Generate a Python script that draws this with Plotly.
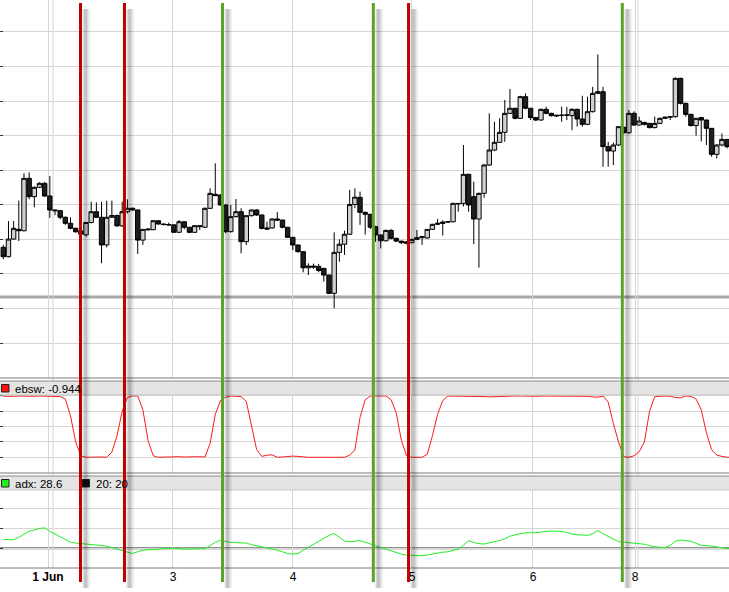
import plotly.graph_objects as go
from plotly.subplots import make_subplots

# hourly candles, price in chart units (one grid step = 10)
opens = [117.7, 115.0, 120.1, 122.9, 122.5, 137.65, 132.35, 135.05, 136.2, 132.55,
         128.5, 128.3, 126.4, 124.65, 123.2, 122.4, 121.3, 124.9, 128.0, 126.4,
         118.4, 126.4, 126.9, 123.9, 128.0, 129.0, 128.5, 119.8, 123.0, 122.8,
         125.4, 124.45, 124.3, 124.2, 122.05, 125.1, 123.5, 122.04, 123.97, 123.5,
         128.98, 133.02, 132.83, 129.94, 122.23, 126.57, 128.0, 119.34, 126.86, 128.5,
         127.05, 123.3, 123.3, 125.9, 125.6, 123.5, 120.6, 118.38, 116.45, 111.8,
         112.3, 112.2, 111.6, 109.7, 104.4, 116.25, 118.6, 121.5, 130.1, 132.15,
         127.82, 127.24, 123.68, 121.27, 119.6, 122.6, 120.3, 119.5, 119.3, 119.05,
         120.0, 120.5, 120.4, 122.9, 124.35, 124.6, 125.0, 125.1, 130.4, 130.4,
         138.8, 132.35, 125.89, 133.31, 141.5, 145.83, 148.05, 150.94, 156.43, 157.9,
         154.99, 161.25, 157.9, 155.2, 154.5, 157.59, 156.43, 155.9, 155.8, 155.9,
         155.76, 157.59, 154.8, 153.25, 156.91, 162.21, 162.69, 146.8, 145.54, 147.28,
         152.4, 150.8, 156.43, 153.06, 153.8, 153.54, 152.3, 153.54, 154.99, 155.3,
         155.47, 166.55, 159.32, 156.14, 152.9, 155.2, 154.5, 152.1, 144.58, 147.28,
         148.9, 146.8]
highs = [118.4, 125.3, 125.3, 131.2, 139.1, 139.4, 135.3, 136.5, 136.6, 138.3,
         128.6, 128.5, 126.6, 126.4, 123.4, 122.6, 125.0, 130.9, 130.7, 130.9,
         131.2, 131.2, 127.2, 130.9, 131.6, 129.2, 128.6, 123.0, 123.2, 125.6,
         125.5, 124.6, 124.85, 124.3, 125.6, 125.3, 123.6, 124.1, 124.1, 129.2,
         134.76, 141.98, 133.0, 130.1, 129.94, 131.67, 129.0, 126.9, 128.6, 128.7,
         127.2, 125.1, 126.1, 127.9, 125.7, 123.6, 120.7, 118.5, 116.6, 113.1,
         113.0, 112.9, 111.8, 109.8, 122.04, 120.0, 122.5, 134.3, 134.76, 133.8,
         128.0, 127.4, 123.9, 121.5, 122.8, 123.0, 120.5, 119.6, 119.5, 120.2,
         122.7, 121.0, 123.0, 124.5, 125.9, 125.5, 125.2, 130.6, 130.5, 147.28,
         139.0, 136.68, 133.5, 141.8, 156.43, 154.0, 154.99, 160.3, 163.46, 158.0,
         161.5, 162.2, 158.0, 155.4, 157.8, 158.36, 156.6, 156.0, 158.36, 158.3,
         157.9, 157.8, 161.5, 161.25, 164.1, 173.48, 164.1, 148.2, 148.0, 152.7,
         152.6, 157.4, 157.0, 155.47, 154.0, 153.6, 155.5, 155.2, 155.5, 155.6,
         166.8, 166.7, 159.5, 156.3, 155.1, 155.4, 154.6, 152.2, 147.5, 150.65,
         149.0, 150.6]
lows = [114.3, 114.8, 119.9, 119.5, 122.3, 131.6, 129.3, 134.8, 132.3, 126.2,
        127.0, 125.8, 124.2, 122.9, 121.95, 119.35, 120.8, 124.6, 126.2, 113.1,
        117.7, 126.2, 123.7, 123.7, 127.5, 128.3, 115.8, 118.4, 122.6, 122.7,
        124.3, 124.0, 123.9, 121.9, 121.9, 122.9, 121.8, 121.9, 122.7, 123.3,
        128.8, 132.6, 129.8, 121.8, 122.0, 126.3, 115.97, 118.38, 126.6, 126.8,
        122.9, 122.7, 123.1, 125.3, 123.2, 120.4, 116.9, 116.2, 110.48, 109.7,
        111.5, 110.5, 107.78, 104.2, 100.07, 113.56, 115.5, 121.3, 129.0, 124.2,
        121.4, 123.0, 119.3, 117.4, 119.4, 120.0, 119.2, 118.7, 118.6, 118.9,
        119.8, 118.4, 120.2, 122.7, 124.1, 121.1, 124.8, 124.9, 128.0, 129.5,
        128.0, 118.6, 111.83, 132.0, 141.2, 145.5, 148.0, 148.2, 156.2, 154.7,
        154.8, 157.6, 154.5, 154.2, 154.3, 156.2, 155.5, 155.4, 154.0, 154.5,
        151.6, 152.6, 152.6, 153.0, 156.7, 162.0, 141.0, 141.0, 141.5, 147.0,
        150.4, 150.5, 152.8, 152.9, 152.9, 152.1, 152.1, 153.3, 154.8, 154.5,
        155.2, 159.0, 155.5, 152.6, 150.0, 148.3, 147.3, 143.9, 143.4, 146.9,
        146.3, 146.5]
closes = [115.0, 120.1, 123.2, 122.5, 137.65, 132.35, 135.05, 136.2, 132.55, 128.5,
          128.3, 126.4, 124.65, 123.2, 122.2, 121.55, 124.9, 128.0, 126.4, 118.4,
          126.4, 126.9, 123.9, 128.0, 129.0, 128.5, 119.8, 122.9, 122.8, 125.4,
          124.45, 124.3, 124.2, 122.05, 125.1, 123.5, 122.04, 123.97, 123.7, 128.98,
          133.3, 132.64, 129.94, 122.23, 126.57, 128.0, 119.34, 126.86, 128.5, 127.05,
          123.2, 123.0, 125.9, 125.6, 123.5, 120.6, 118.38, 116.45, 111.8, 112.3,
          112.0, 111.0, 109.7, 104.4, 116.25, 118.6, 121.5, 130.1, 132.2, 127.82,
          127.24, 123.5, 121.27, 119.6, 122.6, 120.3, 119.5, 119.05, 118.9, 120.0,
          120.5, 120.8, 122.9, 124.35, 124.64, 125.0, 125.1, 130.42, 130.3, 138.8,
          129.94, 125.89, 133.31, 141.5, 145.83, 148.05, 150.94, 156.43, 157.9, 154.99,
          161.25, 157.9, 155.2, 154.5, 157.59, 156.43, 155.76, 155.7, 155.9, 155.95,
          157.59, 154.8, 153.25, 156.91, 162.21, 162.69, 146.8, 145.54, 147.28, 152.58,
          150.8, 156.43, 153.06, 154.2, 153.25, 152.3, 153.54, 154.99, 155.3, 155.47,
          166.55, 159.32, 156.14, 152.9, 154.99, 154.5, 152.1, 144.58, 147.28, 148.9,
          146.8, 147.7]

ebsw = [0.99, 0.98, 0.99, 1.0, 0.99, 0.98, 0.99, 1.0, 1.0, 0.99,
        0.99, 0.98, 0.9, 0.35, -0.5, -0.95, -1.0, -0.99, -0.98, -0.99,
        -1.0, -0.83, -0.3, 0.5, 0.95, 1.0, 1.0, 0.55, -0.45, -0.95,
        -1.0, -0.99, -0.98, -0.99, -0.98, -0.99, -0.98, -0.99, -0.98, -0.99,
        -0.55, 0.4, 0.85, 0.96, 1.0, 0.99, 0.98, 0.82, 0.0, -0.75,
        -0.97, -0.93, -0.92, -1.0, -0.99, -0.97, -0.96, -0.97, -0.99, -1.0,
        -1.0, -0.99, -1.0, -1.0, -1.0, -1.0, -1.0, -0.93, -0.76, 0.3,
        0.88, 1.0, 1.0, 0.99, 1.0, 0.88, 0.45, -0.45, -0.95, -1.0,
        -0.99, -1.0, -0.9, -0.3, 0.4, 0.85, 1.0, 1.0, 0.99, 1.0,
        1.0, 0.99, 0.98, 0.98, 0.97, 0.98, 0.99, 0.99, 1.0, 1.0,
        1.0, 0.99, 0.99, 0.99, 1.0, 1.0, 1.0, 0.99, 0.99, 0.99,
        1.0, 1.0, 0.99, 0.99, 0.97, 0.96, 1.0, 0.8, 0.1, -0.5,
        -0.98, -1.0, -0.95, -0.82, -0.5, 0.5, 0.98, 1.0, 1.0, 0.99,
        0.95, 0.94, 1.0, 0.99, 0.9, 0.55, -0.2, -0.75, -0.93, -0.97,
        -1.0, -1.0]

adx = [24.4, 24.2, 24.3, 25.5, 27.0, 28.6, 29.2, 30.0, 30.3, 28.5,
       27.2, 25.8, 24.4, 23.0, 22.6, 22.3, 22.0, 21.8, 21.6, 21.4,
       21.1, 20.3, 19.5, 18.7, 18.0, 17.3, 18.2, 19.0, 19.2, 19.4,
       19.6, 19.8, 20.0, 20.0, 19.8, 19.5, 19.6, 19.6, 19.7, 19.8,
       21.2, 23.0, 24.0, 23.5, 22.9, 22.8, 22.8, 22.6, 21.8, 21.3,
       20.8, 20.2, 19.7, 19.0, 18.2, 17.3, 17.0, 17.3, 18.9, 20.4,
       22.0, 23.5, 25.0, 26.5, 27.5, 25.5, 23.6, 23.3, 23.6, 23.8,
       23.0, 22.1, 21.3, 20.4, 19.6, 18.8, 18.0, 17.0, 16.5, 16.4,
       16.3, 16.2, 16.6, 17.1, 17.7, 18.0, 18.2, 18.9, 19.5, 21.5,
       23.8, 22.9, 22.3, 22.1, 22.6, 23.3, 23.9, 24.8, 26.1, 26.8,
       27.4, 27.8, 27.8, 27.8, 28.2, 28.6, 28.7, 28.6, 28.5, 28.0,
       27.2, 26.8, 26.6, 26.5, 27.3, 29.0, 27.3, 26.0, 24.6, 23.3,
       23.1, 22.9, 22.6, 22.3, 22.0, 21.3, 20.7, 20.5, 20.3, 21.5,
       23.5, 24.1, 23.9, 23.5, 22.5, 21.4, 21.4, 21.2, 20.7, 20.2,
       19.8, 19.6]

adx_level = 20
support_level = 103.35

# signal bars (bar index)
sell_signals = [14.93, 23.44, 78.38]
buy_signals = [42.4, 71.57, 119.73]

tick_pos = [8.65, 32.82, 56.03, 79.05, 102.45, 122.19]
tick_text = ["<b>1 Jun</b>", "3", "4", "5", "6", "8"]
week_lines = [9.61, 122.77]

bars = list(range(len(closes)))

W, H, PLOT_H = 729, 592, 568
BAR_PX = 5.17


def py(y):
    # pixel row -> paper y
    return (PLOT_H - y) / PLOT_H


fig = make_subplots(rows=3, cols=1, shared_xaxes=True)

fig.add_trace(go.Candlestick(
    x=bars, open=opens, high=highs, low=lows, close=closes,
    increasing=dict(fillcolor="#d0d0d0", line=dict(color="black", width=1)),
    decreasing=dict(fillcolor="#1e1e1e", line=dict(color="black", width=1)),
    showlegend=False), row=1, col=1)
fig.add_trace(go.Scatter(x=bars, y=ebsw, mode="lines",
                         line=dict(color="#ff1a1a", width=1), showlegend=False), row=2, col=1)
fig.add_trace(go.Scatter(x=bars, y=adx, mode="lines",
                         line=dict(color="#22ee22", width=1), showlegend=False), row=3, col=1)

shapes = []
# level lines
shapes.append(dict(type="line", xref="paper", yref="y", x0=0, x1=1,
                   y0=support_level, y1=support_level,
                   line=dict(color="#a8a8a8", width=3), layer="below"))
shapes.append(dict(type="line", xref="paper", yref="y3", x0=0, x1=1,
                   y0=adx_level, y1=adx_level,
                   line=dict(color="#6e6e6e", width=2), layer="below"))
# extra week separator grid lines
for wl in week_lines:
    shapes.append(dict(type="line", xref="x", yref="paper", x0=wl, x1=wl,
                       y0=0, y1=1, line=dict(color="#d6d6d6", width=1), layer="below"))
# indicator header bands
for top, bot in [(381, 395), (476, 490)]:
    shapes.append(dict(type="rect", xref="paper", yref="paper", x0=0, x1=1,
                       y0=py(bot), y1=py(top), fillcolor="#e4e4e4",
                       line=dict(width=0), layer="above"))
for y, c in [(378, "#7a7a7a"), (381, "#8a8a8a"), (395, "#c8c8c8"),
             (473, "#7a7a7a"), (476, "#8a8a8a"), (490, "#c8c8c8"), (568, "#7a7a7a")]:
    shapes.append(dict(type="line", xref="paper", yref="paper", x0=0, x1=1,
                       y0=py(y), y1=py(y), line=dict(color=c, width=1), layer="above"))

# legend squares
for x0, y0, col in [(1.5, 384.5, "#ff1010"), (1.5, 479.5, "#22ee22"), (82, 479.5, "#111111")]:
    shapes.append(dict(type="rect", xref="paper", yref="paper",
                       x0=x0 / W, x1=(x0 + 7.5) / W, y0=py(y0 + 7.5), y1=py(y0),
                       fillcolor=col, line=dict(color="#222222", width=1), layer="above"))

# signal lines with drop shadow
shade = [(2.5, 0.08), (3.5, 0.16), (4.5, 0.22), (5.5, 0.22), (6.5, 0.17),
         (7.5, 0.11), (8.5, 0.06), (9.5, 0.03)]
for xs, col in [(sell_signals, "#c00000"), (buy_signals, "#5ca328")]:
    for s in xs:
        for off, a in shade:
            xx = s + off / BAR_PX
            shapes.append(dict(type="line", xref="x", yref="paper", x0=xx, x1=xx,
                               y0=py(588), y1=py(9),
                               line=dict(color="rgba(0,0,0,%.2f)" % a, width=1.2),
                               layer="above"))
        shapes.append(dict(type="line", xref="x", yref="paper", x0=s, x1=s,
                           y0=py(582), y1=py(3), line=dict(color=col, width=3),
                           layer="above"))

annotations = []
for x, y, txt in [(12.5, 388.5, "ebsw: -0.944"), (12.5, 483.5, "adx: 28.6"), (93.5, 483.5, "20: 20")]:
    annotations.append(dict(x=x / W, y=py(y), xref="paper", yref="paper", text=txt,
                            showarrow=False, xanchor="left", yanchor="middle",
                            font=dict(size=11.5, color="black", family="Liberation Sans")))

fig.update_layout(
    width=W, height=H,
    margin=dict(l=0, r=0, t=0, b=H - PLOT_H),
    plot_bgcolor="white", paper_bgcolor="white",
    font=dict(family="Liberation Sans", size=12, color="black"),
    shapes=shapes, annotations=annotations,
    showlegend=False, boxgap=0.15, boxgroupgap=0,
    xaxis_rangeslider_visible=False,
    yaxis=dict(domain=[py(378), 1], range=[79.94, 189.19]),
    yaxis2=dict(domain=[py(473), py(381)], range=[-1.512, 1.489], dtick=0.5),
    yaxis3=dict(domain=[0, py(476)], range=[10, 56.5], dtick=10),
)

xr = [(0 - 3.3) / BAR_PX, (W - 3.3) / BAR_PX]
for ax in ["xaxis", "xaxis2", "xaxis3"]:
    fig.layout[ax].update(range=xr, tickmode="array", tickvals=tick_pos, ticktext=tick_text,
                          showgrid=True, gridcolor="#d6d6d6", gridwidth=1, zeroline=False,
                          showline=False, ticks="", rangeslider=dict(visible=False))
fig.update_xaxes(showticklabels=False)
fig.layout.xaxis3.update(showticklabels=True, tickfont=dict(size=12, color="black"))
fig.layout.yaxis.update(dtick=10, tick0=0)
for ax in ["yaxis", "yaxis2", "yaxis3"]:
    fig.layout[ax].update(showgrid=True, gridcolor="#d6d6d6", gridwidth=1, zeroline=False,
                          showticklabels=False, ticks="inside", ticklen=3,
                          tickcolor="#333333", showline=False)

fig.write_html("out.html", config={"displayModeBar": False},
               post_script="document.body.style.margin='0';document.body.style.overflow='hidden';")
